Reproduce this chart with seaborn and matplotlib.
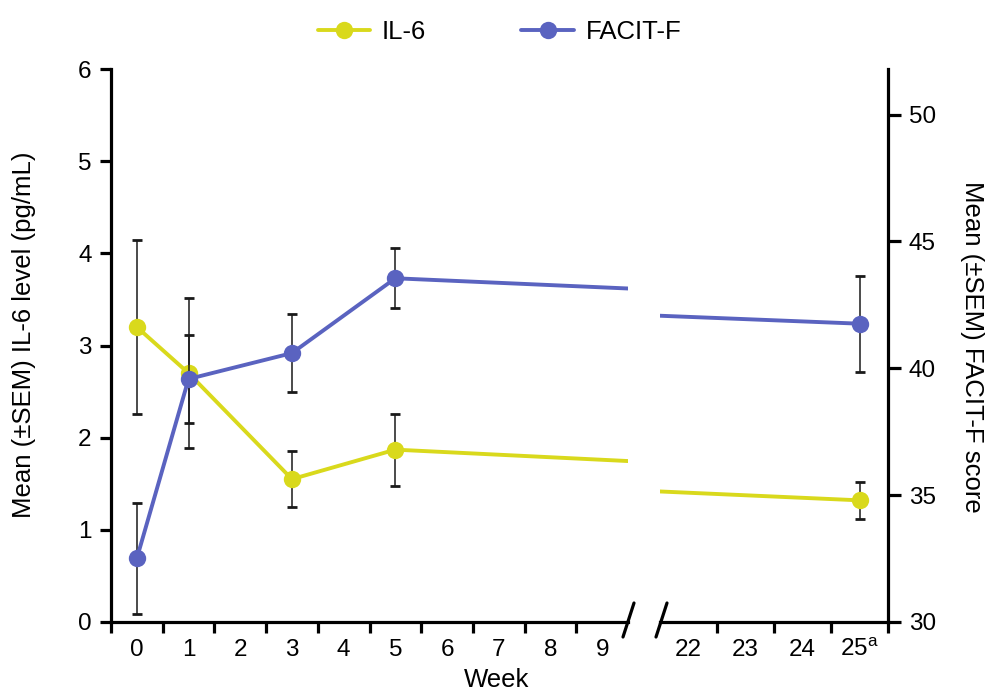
import numpy as np
import pandas as pd
import matplotlib
matplotlib.use("Agg")
import matplotlib.pyplot as plt
from matplotlib.lines import Line2D
import seaborn as sns

# ---- data ----
weeks = [0, 1, 3, 5, 25]
il6_mean = [3.20, 2.70, 1.55, 1.87, 1.32]
il6_sem = [0.94, 0.81, 0.30, 0.39, 0.20]
facit_mean = [32.51, 39.58, 40.60, 43.55, 41.76]
facit_sem = [2.20, 1.72, 1.55, 1.18, 1.89]

left_tick_weeks = [0, 1, 2, 3, 4, 5, 6, 7, 8, 9]
right_tick_weeks = [22, 23, 24, 25]
right_tick_labels = ["22", "23", "24", "25$^{\\mathrm{a}}$"]
il6_yticks = [0, 1, 2, 3, 4, 5, 6]
facit_yticks = [30, 35, 40, 45, 50]

YEL = "#D9D91C"
BLU = "#5A63C0"

sns.set_style("ticks")
plt.rcParams["font.family"] = ["Liberation Sans", "DejaVu Sans"]
plt.rcParams["mathtext.fontset"] = "custom"
plt.rcParams["mathtext.rm"] = "Liberation Sans"
plt.rcParams["mathtext.it"] = "Liberation Sans"
plt.rcParams["text.color"] = "black"
plt.rcParams["axes.labelcolor"] = "black"

df = pd.DataFrame({"week": weeks, "il6": il6_mean, "il6_sem": il6_sem,
                   "facit": facit_mean, "facit_sem": facit_sem})

W, H = 985, 693
fig = plt.figure(figsize=(W / 100, H / 100), dpi=100)
ax_l = fig.add_axes([111 / W, (H - 622) / H, (628 - 111) / W, (622 - 69) / H])
ax_r = fig.add_axes([660 / W, (H - 622) / H, (888 - 660) / W, (622 - 69) / H])
ax_l2 = ax_l.twinx()
ax_r2 = ax_r.twinx()

FS = 17.5
LFS = 18.5
LW = 2.8
MS = 12.5
for a, a2 in [(ax_l, ax_l2), (ax_r, ax_r2)]:
    a.errorbar(df["week"], df["il6"], yerr=df["il6_sem"], fmt="none",
               ecolor="#1a1a1a", elinewidth=1.1, capsize=3.8, capthick=2, zorder=1)
    sns.lineplot(data=df, x="week", y="il6", ax=a, color=YEL, marker="o",
                 markersize=MS, markeredgewidth=0, linewidth=LW, legend=False, zorder=3)
    a2.errorbar(df["week"], df["facit"], yerr=df["facit_sem"], fmt="none",
                ecolor="#1a1a1a", elinewidth=1.1, capsize=3.8, capthick=2, zorder=1)
    sns.lineplot(data=df, x="week", y="facit", ax=a2, color=BLU, marker="o",
                 markersize=MS, markeredgewidth=0, linewidth=LW, legend=False, zorder=3)
    a.set_ylim(0, 6)
    a2.set_ylim(30, 51.8)
    a.set_xlabel("")
    a.set_ylabel("")
    a2.set_ylabel("")
    for s in a.spines.values():
        s.set_linewidth(2.3)
        s.set_color("black")
    for s in a2.spines.values():
        s.set_linewidth(2.3)
        s.set_color("black")
    a.tick_params(axis="both", which="both", direction="out", width=2.3,
                  color="black", labelsize=FS, labelcolor="black")
    a2.tick_params(axis="both", which="both", direction="out", width=2.3,
                   color="black", labelsize=FS, labelcolor="black")

ax_l.set_xlim(-0.5, 9.5)
ax_r.set_xlim(21.5, 25.5)
ax_l2.set_xlim(-0.5, 9.5)
ax_r2.set_xlim(21.5, 25.5)

# left segment
ax_l.spines["top"].set_visible(False)
ax_l.spines["right"].set_visible(False)
for s in ax_l2.spines.values():
    s.set_visible(False)
ax_l2.set_yticks([])
ax_l.set_yticks(il6_yticks)
ax_l.tick_params(axis="y", length=8, pad=6)
ax_l.set_xticks(left_tick_weeks)
ax_l.set_xticklabels([str(w) for w in left_tick_weeks])
ax_l.set_xticks([w - 0.5 for w in left_tick_weeks], minor=True)
ax_l.tick_params(axis="x", which="major", length=0, pad=12)
ax_l.tick_params(axis="x", which="minor", length=8)

# right segment
for k in ["top", "left", "right"]:
    ax_r.spines[k].set_visible(False)
for k in ["top", "left", "bottom"]:
    ax_r2.spines[k].set_visible(False)
ax_r.set_yticks([])
ax_r2.set_yticks(facit_yticks)
ax_r2.tick_params(axis="y", length=9, pad=6)
ax_r.set_xticks(right_tick_weeks)
ax_r.set_xticklabels(right_tick_labels)
ax_r.set_xticks([w + 0.5 for w in right_tick_weeks], minor=True)
ax_r.tick_params(axis="x", which="major", length=0, pad=12)
ax_r.tick_params(axis="x", which="minor", length=8)

# break marks
for cx in (628.5, 661.5):
    fig.add_artist(Line2D([(cx - 5.5) / W, (cx + 5.5) / W],
                          [(H - 637) / H, (H - 603) / H],
                          transform=fig.transFigure, color="black", lw=2.3))

# axis labels
fig.text(24 / W, (H - 335) / H, "Mean (\u00b1SEM) IL-6 level (pg/mL)",
         rotation=90, ha="center", va="center", fontsize=LFS, color="black")
fig.text(972 / W, (H - 347) / H, "Mean (\u00b1SEM) FACIT-F score",
         rotation=270, ha="center", va="center", fontsize=LFS, color="black")
fig.text(497 / W, (H - 680) / H, "Week", ha="center", va="center",
         fontsize=LFS, color="black")

# legend
handles = [Line2D([0], [0], color=YEL, lw=LW, marker="o", markersize=MS, markeredgewidth=0),
           Line2D([0], [0], color=BLU, lw=LW, marker="o", markersize=MS, markeredgewidth=0)]
fig.legend(handles, ["IL-6", "FACIT-F"], loc="upper center",
           bbox_to_anchor=(0.507, 1.005), ncol=2, frameon=False, fontsize=LFS,
           handlelength=2.05, columnspacing=3.7, handletextpad=0.45,
           labelcolor="black")

fig.savefig("out.png", dpi=100)
